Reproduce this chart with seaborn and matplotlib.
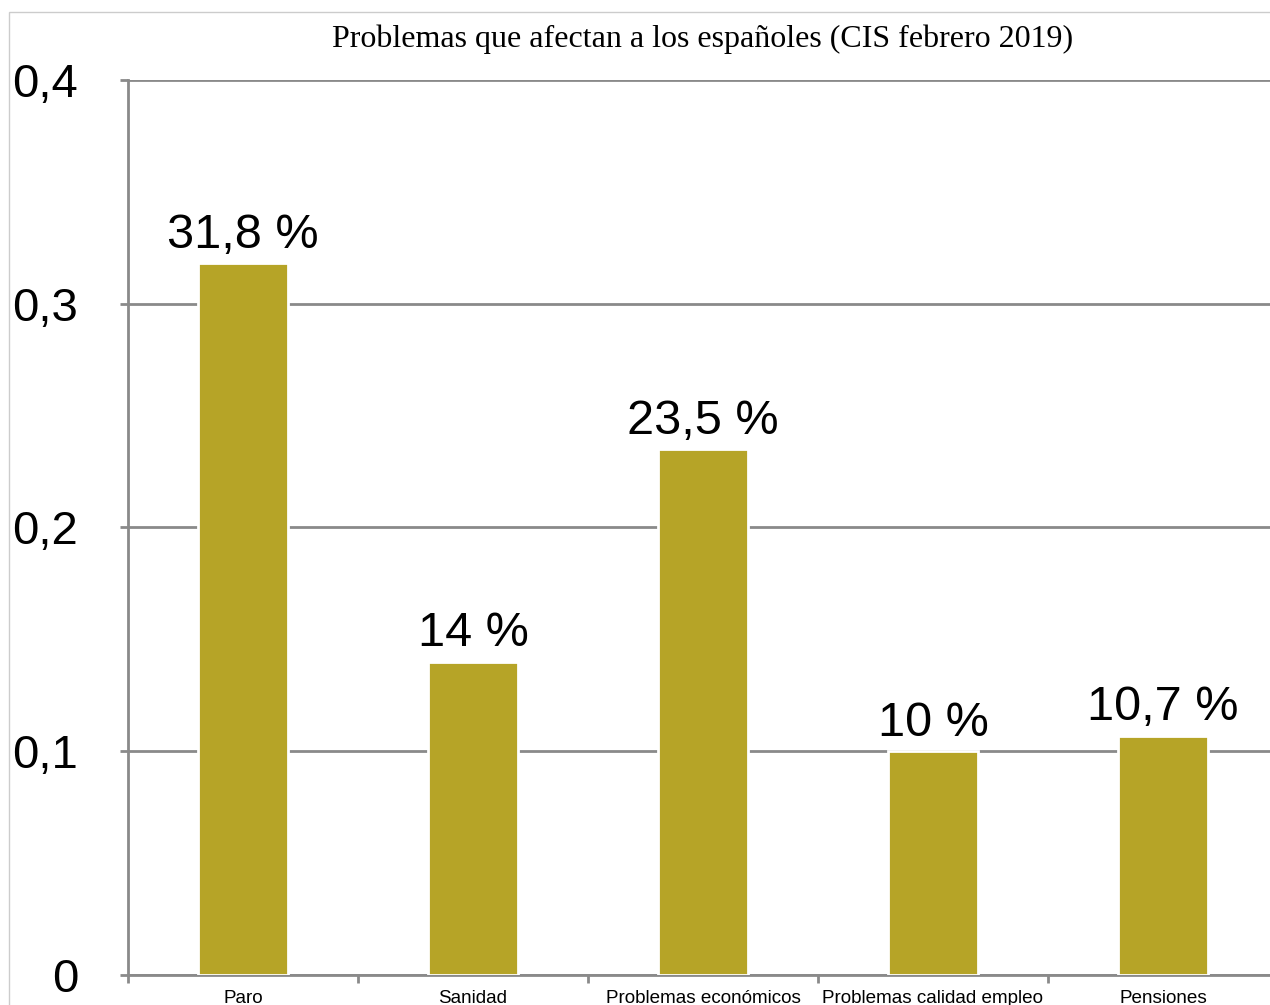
import matplotlib
matplotlib.use('Agg')
import matplotlib.pyplot as plt
import seaborn as sns
import pandas as pd
from matplotlib.patches import Rectangle

categories = ['Paro', 'Sanidad', 'Problemas económicos', 'Problemas calidad empleo', 'Pensiones']
values = [0.318, 0.14, 0.235, 0.10, 0.107]
bar_labels = ['31,8 %', '14 %', '23,5 %', '10 %', '10,7 %']
yticks = [0, 0.1, 0.2, 0.3, 0.4]
ytick_labels = ['0', '0,1', '0,2', '0,3', '0,4']

sns.set_style('white')
plt.rcParams['font.family'] = ['Liberation Sans', 'DejaVu Sans']
plt.rcParams['text.color'] = 'black'
plt.rcParams['xtick.labelcolor'] = 'black'
plt.rcParams['ytick.labelcolor'] = 'black'

df = pd.DataFrame({'problema': categories, 'valor': values})

fig = plt.figure(figsize=(12.7, 10.05), dpi=100)
ax = fig.add_axes([128 / 1270, 1 - 975 / 1005, 1150 / 1270, 895 / 1005])

sns.barplot(data=df, x='problema', y='valor', color='#b6a427', saturation=1,
            width=0.39, edgecolor='white', linewidth=2, ax=ax, zorder=3)

ax.set_xlim(-0.5, 4.5)
ax.set_ylim(0, 0.4)
ax.set_yticks(yticks)
ax.set_yticklabels(ytick_labels, fontsize=34)
ax.grid(axis='y', color='#8a8a8a', linewidth=2, zorder=0)
ax.set_axisbelow(True)

for s in ['top', 'right']:
    ax.spines[s].set_visible(False)
for s in ['left', 'bottom']:
    ax.spines[s].set_color('#8a8a8a')
    ax.spines[s].set_linewidth(2)

ax.tick_params(axis='y', length=6, width=2, color='#8a8a8a', pad=30, left=True)
ax.tick_params(axis='x', which='major', length=0, pad=11, labelsize=13.6)
ax.set_xticks([-0.5, 0.5, 1.5, 2.5, 3.5], minor=True)
ax.tick_params(axis='x', which='minor', length=6, width=2, color='#8a8a8a', bottom=True)

ax.bar_label(ax.containers[0], labels=bar_labels, padding=4, fontsize=35, color='black')

ax.set_xlabel('')
ax.set_ylabel('')
ax.set_title('Problemas que afectan a los españoles (CIS febrero 2019)',
             family='Liberation Serif', fontsize=23, pad=24, color='black')

# marco claro del lienzo
fig.add_artist(Rectangle((9 / 1270, -0.1), 1.2, 1 - 12 / 1005 + 0.1,
                         transform=fig.transFigure, fill=False,
                         edgecolor='#cccccc', linewidth=1))

fig.savefig('out.png', dpi=100)
